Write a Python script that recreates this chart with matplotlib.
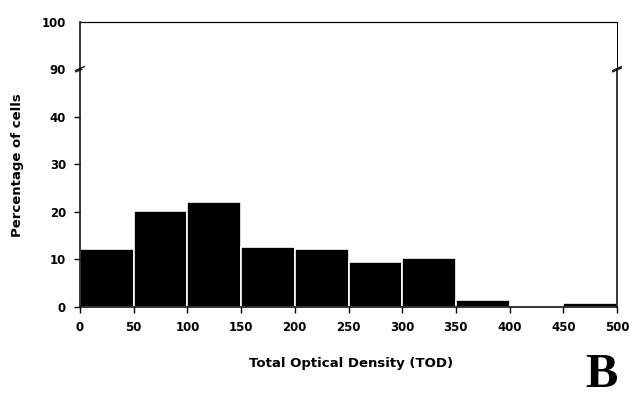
import numpy as np
import matplotlib.pyplot as plt

# histogram bins (TOD) and percentage of cells per bin
bin_edges = [0, 50, 100, 150, 200, 250, 300, 350, 400, 450, 500]
percent = [12.2, 20.2, 22.1, 12.7, 12.2, 9.4, 10.2, 1.4, 0.0, 0.8]
x_ticks = [0, 50, 100, 150, 200, 250, 300, 350, 400, 450, 500]
y_ticks_low = [0, 10, 20, 30, 40]
y_ticks_high = [90, 100]

plt.rcParams['font.family'] = ['DejaVu Sans']
plt.rcParams['font.weight'] = 'bold'

fig = plt.figure(figsize=(6.29, 3.98), dpi=100)
W, H = 629, 398
left, right = 80 / W, 617 / W
ax = fig.add_axes([left, (H - 307) / H, right - left, 238 / H])
ax_top = fig.add_axes([left, (H - 69) / H, right - left, 47 / H])

lefts = np.array(bin_edges[:-1])
widths = np.diff(bin_edges)
for a in (ax, ax_top):
    a.bar(lefts, percent, width=widths, align='edge', color='black',
          edgecolor='white', linewidth=1.2)
    a.set_xlim(0, 500)
    for s in a.spines.values():
        s.set_linewidth(1.1)

ax.set_ylim(0, 50)
ax.set_yticks(y_ticks_low)
ax.set_xticks(x_ticks)
ax.spines['top'].set_visible(False)
ax.tick_params(axis='both', labelsize=8.5, length=4, width=1, pad=6)
for lab in ax.get_xticklabels() + ax.get_yticklabels():
    lab.set_fontweight('bold')

ax_top.set_ylim(90, 100)
ax_top.set_yticks(y_ticks_high)
ax_top.set_xticks([])
ax_top.spines['bottom'].set_visible(False)
ax_top.spines['right'].set_linewidth(0.7)
ax_top.spines['top'].set_linewidth(0.9)
ax_top.tick_params(axis='y', labelsize=8.5, length=0, width=1, pad=10)
for lab in ax_top.get_yticklabels():
    lab.set_fontweight('bold')

# break marks on the y axis
d = 0.008
kw = dict(color='black', linewidth=0.9, clip_on=False)
for xb in (0, 1):
    ax.plot([xb - d, xb + d], [1 - 0.012, 1 + 0.004], transform=ax.transAxes, **kw)
    ax_top.plot([xb - d, xb + d], [-0.03, 0.05], transform=ax_top.transAxes, **kw)

fig.text(18 / W, 1 - 165 / H, 'Percentage of cells', rotation=90, ha='center',
         va='center', fontsize=9.5, fontweight='bold')
fig.text(351 / W, 1 - 363 / H, 'Total Optical Density (TOD)', ha='center',
         va='center', fontsize=9.5, fontweight='bold')
fig.text(601 / W, 0.003, 'B', ha='center', va='bottom', fontsize=35,
         fontweight='bold', family='Liberation Serif')

fig.savefig('out.png', dpi=100)
